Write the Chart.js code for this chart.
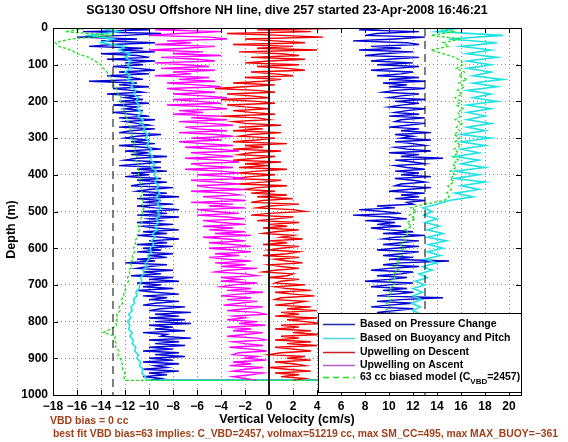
<!DOCTYPE html>
<html>
<head>
<meta charset="utf-8">
<script src="https://cdn.jsdelivr.net/npm/chart.js@4.4.1/dist/chart.umd.min.js"></script>
<style>
  html, body { margin: 0; padding: 0; background: #fff; }
</style>
</head>
<body>
<canvas id="chart" width="568" height="442"></canvas>
<script>
// depth levels (m): fine grid for the noisy profiles, coarse grid for the smooth ones
const depthsFine = [0,5,10,15,20,25,30,35,40,45,50,55,60,65,70,75,80,85,90,95,
  100,105,110,115,120,125,130,135,140,145,150,155,160,165,170,175,180,185,190,195,
  200,205,210,215,220,225,230,235,240,245,250,255,260,265,270,275,280,285,290,295,
  300,305,310,315,320,325,330,335,340,345,350,355,360,365,370,375,380,385,390,395,
  400,405,410,415,420,425,430,435,440,445,450,455,460,465,470,475,480,485,490,495,
  500,505,510,515,520,525,530,535,540,545,550,555,560,565,570,575,580,585,590,595,
  600,605,610,615,620,625,630,635,640,645,650,655,660,665,670,675,680,685,690,695,
  700,705,710,715,720,725,730,735,740,745,750,755,760,765,770,775,780,785,790,795,
  800,805,810,815,820,825,830,835,840,845,850,855,860,865,870,875,880,885,890,895,
  900,905,910,915,920,925,930,935,940,945,950,955,960];
const depthsCoarse = [0,10,20,30,40,50,60,70,80,90,100,110,120,130,140,150,160,170,180,190,200,210,220,230,240,250,260,270,280,290,300,310,320,330,340,350,360,370,380,390,400,410,420,430,440,450,460,470,480,490,500,510,520,530,540,550,560,570,580,590,600,610,620,630,640,650,660,670,680,690,700,710,720,730,740,750,760,770,780,790,800,810,820,830,840,850,860,870,880,890,900,910,920,930,940,950,960];

// pressure change, descent / ascent (cm/s), on depthsFine
const pressureDown = [-13,-10,-15.5,-9,-12,-16,-11,-14,-9.5,-13,-15,-10.5,-12.5,-9.5,-14,-11,-10,-13.5,-9.5,-12,
  -10.5,-13,-11,-9.5,-12.5,-10,-13.5,-11.5,-10.5,-15,-11,-12.5,-10,-13,-11.5,-10.5,-13.5,-11,-12,-10.5,
  -12.5,-10,-13,-11,-12,-10.5,-13,-11.5,-10,-12.5,-9.5,-12,-11,-10,-12.5,-9.5,-11.5,-12.5,-9,-11,
  -12,-10,-11.5,-9.5,-12.5,-10.5,-9,-12,-10,-11.5,-8.5,-11,-12,-9,-10.5,-12.5,-9,-11,-8.5,-11.5,
  -10,-12,-9,-11,-8.5,-10.5,-11.5,-8,-10,-11,-8.5,-10.5,-7.5,-11,-9,-10.5,-8,-11,-9.5,-7.5,
  -10.5,-8.5,-11,-7.5,-10,-9,-11,-8,-10.5,-9.5,-7.5,-10.5,-8.5,-11,-9,-7.5,-10,-8.5,-11,-8,
  -10.5,-9,-11,-8,-10,-8.5,-11,-9.5,-12,-8.5,-10,-11,-8,-10.5,-9,-11.5,-8,-10,-7.5,-11,
  -9,-10.5,-8,-11,-9.5,-7.5,-10.5,-8.5,-10,-7.5,-9.5,-10.5,-7,-9,-10,-6.5,-9.5,-7.5,-10,-7,
  -9.5,-6.5,-10,-8,-9.5,-7,-10.5,-8.5,-9,-6.5,-10,-7.5,-9.5,-7,-10,-8,-10.5,-7.5,-9.5,-7,
  -10,-8,-10.5,-7.5,-9.5,-8.5,-10.5,-7.5,-10,-8.5,-10.5,-9,-10];
const pressureUp = [10,7.5,12.5,9,8,13,10.5,7,11.5,12.5,8.5,11,7.5,12,9.5,8,12.5,10,8.5,12,
  9,12.5,10.5,8.5,12,11,9,12.5,10,13,9.5,11.5,10,13,10.5,9.5,12.5,11,10,13,
  10.5,12.5,11,10,13,11.5,10.5,12.5,10,13,11,10.5,13,11.5,10,12.5,11,13.5,10.5,12,
  11,13.5,10.5,12,13,10.5,11.5,13.5,10,12.5,11,14.5,10.5,12,13,10.5,11.5,13,10.5,12.5,
  11,13.5,10.5,12,13,11,10.5,13.5,11.5,10,13,11,12.5,10.5,13,11.5,12,9,10.5,7.5,
  9.5,11,7,10,11.5,8,10.5,9,11,8.5,10,12,9.5,13,10.5,9.5,12.5,11,9.5,12.5,
  10.5,9,12.5,11,9.5,12,10,15,11,9.5,12.5,10,8.5,12,11,9,11.5,10,8,12,
  10,8.5,11.5,9.5,12,10.5,9,14.5,11,9,12,10,8.5,12,10.5,9,12,11,9.5,12,
  10.5,9,12,10,9,12.5,11,9.5,12,10,9,12,10.5,9,12,11,9.5,12.5,10,9,
  12,10.5,9,12,11,9.5,12,10,9.5,12,10.5,11,10];

// buoyancy and pitch, descent / ascent, on depthsCoarse
const buoyDown = [-14,-12.5,-15,-13,-14,-12,-12.5,-11.5,-12,-11.5,-11.8,-11.5,-12,-11.5,-11.8,-11.3,-11.5,-11.1,-11.3,-10.9,-11.1,-10.8,-11,-10.6,-10.9,-10.5,-10.7,-10.3,-10.5,-10.1,-10.3,-10,-10.2,-9.8,-10,-9.7,-9.9,-9.5,-9.8,-9.4,-9.6,-9.3,-9.5,-9.2,-9.4,-9.1,-9.4,-9.1,-9.3,-9,-9.3,-9.1,-9.4,-9.2,-9.5,-9.3,-9.7,-9.5,-9.8,-9.6,-9.9,-9.8,-10.1,-10,-10.3,-10.2,-10.5,-10.4,-10.7,-10.6,-10.8,-10.8,-11.1,-11,-11.3,-11.2,-11.5,-11.4,-11.7,-11.5,-11.8,-11.6,-11.7,-11.4,-11.6,-11.3,-11.4,-11.1,-11.2,-10.9,-11,-10.7,-10.8,-10.5,-10.6,-10.3,-10.2];
const buoyUp = [16,14,19.5,15,19,16,18.5,16.5,19,16.5,18.5,16.5,18.5,17,19.5,17,19,16.5,18.5,17,19,16.5,18.5,16.5,18,16.5,18.5,16.5,18,16,18.5,16,18,16,17.5,15.5,17.5,16,18,15.5,17.5,15.5,18,16,17.5,15.5,17,15,14,12.8,13.6,12.9,14,13,14.2,13.2,14.5,13.2,14.8,13.3,14.5,13.2,14.3,13,14,12.8,13.6,12.5,13.2,12.2,13,12,12.8,12,12.7,11.9,12.6,12,12.7,12.2,12.8,12.3,12.7,12.2,12.6,12.1,12.5,12,12.4,11.9,12.3,11.8,12.2,11.7,12,11.6,11.5];

// upwelling on descent / on ascent, on depthsFine
const upwellDown = [7.5,-1,3.5,-3.5,1,4.5,-2,0.5,3,-3,2,-1,4,-2.5,1,2.5,-1.5,3,0,-2,
  2.5,-1,1.5,3,-1.5,0.5,2,-2,1,-0.5,-3,0.5,-2,-4.5,-1,0.5,-3.5,-1.5,0,-4,
  -1,0.5,-3.5,-2,0,-3,-1.5,0.5,-4,-1,0,-3,-2,1,-2.5,-0.5,-3,1,-1.5,-2.5,
  0.5,-1,-3,1.5,-2,-0.5,-3,1,-1.5,-2.5,0.5,-1,-3,1,-2,0,-2.5,1.5,-1,-2.5,
  0.5,-1.5,-3,1,-0.5,-2.5,1.5,-1,-2,0.5,-1.5,1.5,-1,2,-0.5,-1.5,2.5,0,-1,2,
  3,0,-1.5,2,0.5,-1,2.5,0,1.5,-0.5,2.5,0.5,-0.5,2,1,2.8,0,1.5,-0.5,2.5,
  1,0,2.5,1.5,-0.5,2.5,0.5,1.5,2.8,0,1,2.5,0.5,-0.5,2,1.5,0,2.5,1,0.5,
  3,0.5,1.5,3.5,0.5,2,3.8,1,0.5,3,2,0.5,3.5,1.5,4,1,2.5,0.5,4,1.5,
  3,4.3,1,2.5,0.5,3.5,2,4.3,1,2.5,0.5,3.5,1.5,4,0.5,2,3.5,1,0,3,
  1.5,3.5,0.5,2,3,0,1.5,3.5,0.5,2.5,1,3,2];
const upwellUp = [-6,-9.5,-4,-7.5,-10,-5,-3.5,-8.5,-6.5,-9.5,-4.5,-7,-10,-5.5,-8,-4,-9,-6,-4.5,-9.5,
  -7,-5,-9,-4.5,-8,-6.5,-9.5,-5,-7.5,-4.5,-8.5,-6,-4,-8.5,-7,-4.5,-8,-5.5,-3.5,-8,
  -6,-4,-8.5,-5,-3.5,-7.5,-5.5,-8,-4,-6.5,-3.5,-7.5,-5,-3,-7,-6,-3.5,-7.5,-4.5,-3,
  -6.5,-4,-7.5,-5.5,-3,-7,-4.5,-2.5,-6.5,-5,-3,-7,-4,-2.5,-6.5,-5.5,-3,-7,-4,-2.5,
  -6,-3.5,-2,-6.5,-4.5,-2.5,-6,-5,-2,-6.5,-3.5,-2.5,-5.5,-4,-2,-6.5,-3,-5,-2,-6,
  -4.5,-2.5,-6,-3.5,-2,-5.5,-4,-2,-5.5,-3,-5,-2,-4.5,-1.5,-5.5,-3.5,-2,-5,-3,-1.5,
  -5,-3,-1.5,-4.5,-2.5,-5,-3.5,-1.5,-4.5,-2,-4,-1,-3.5,-4.5,-2,-1,-4,-2.5,-4,-1,
  -3,-4,-1.5,-3.5,-0.5,-2.5,-4,-1.5,-3.5,-1,-2.5,-3.8,-0.5,-2,-3.5,-1,-0.3,-3,-2,-3.5,
  -1,-2.5,-0.3,-3.5,-1.5,-3,-0.5,-2,-3.5,-1,-0.3,-3,-2,-0.5,-3.3,-1.5,-0.2,-2.5,-3,-1,
  -2,-0.2,-3,-1.5,-3.3,-0.5,-2,-3,-0.5,-1.5,-3,-2,-1];

// 63 cc biased model, descent / ascent, on depthsCoarse
const modelDown = [-15,-17,-13,-16.5,-17.8,-17.5,-16.5,-16,-15,-14.5,-14,-13.8,-13.5,-13.3,-13.1,-13,-12.9,-12.6,-12.6,-12.3,-12.4,-12.1,-12.2,-11.9,-12,-11.7,-11.8,-11.5,-11.6,-11.4,-11.5,-11.2,-11.3,-11.1,-11.2,-11,-11.1,-10.9,-11,-10.8,-10.9,-10.7,-10.8,-10.6,-10.7,-10.5,-10.7,-10.5,-10.6,-10.4,-10.6,-10.5,-10.7,-10.6,-10.9,-10.8,-11,-10.9,-11.2,-11.1,-11.3,-11.2,-11.4,-11.3,-11.6,-11.4,-11.7,-11.6,-11.8,-11.7,-12,-11.9,-12.1,-12.1,-12.3,-12.2,-12.5,-12.4,-12.7,-12.6,-12.8,-12.7,-13.2,-13.8,-12.8,-12.9,-12.7,-12.8,-12.5,-12.6,-12.4,-12.3,-12.2,-12.2,-12,-12.1,-12];
const modelUp = [14,15.5,13.5,16,14.5,15,13.5,14.5,15.5,16,16.2,15.6,16.3,15.8,16.5,15.8,16.3,15.7,16.1,15.5,16,15.6,16.2,15.7,16,15.5,16.1,15.6,15.9,15.4,15.9,15.5,16,15.4,15.8,15.3,15.8,15.3,15.6,15.1,15.5,15.1,15.4,14.9,15.2,14.8,15,14.6,13,11.8,12.3,11.7,12.2,11.5,11.9,11.3,11.7,11.1,11.4,10.9,11.3,10.8,11.1,10.6,10.9,10.4,10.8,10.3,10.6,10.1,10.5,10,10.3,9.9,10.2,9.8,10.1,9.7,10,9.8,10.1,9.7,10,9.8,10.1,9.7,10,9.8,10.1,9.7,10,9.8,10.1,9.7,10,9.8,10];

// vertical reference lines
const vbdLimit = 13;
const xTicks = [-18,-16,-14,-12,-10,-8,-6,-4,-2,0,2,4,6,8,10,12,14,16,18,20];
const yTicks = [0,100,200,300,400,500,600,700,800,900,1000];

const BLUE = "#0000d2";
const CYAN = "#22e2e2";
const RED = "#f00000";
const MAGENTA = "#ff00ff";
const GREEN = "#22dd22";
const FONT = "'Liberation Sans', Arial, sans-serif";

function descent(vals, depths) {
  return vals.map((v, i) => ({ x: v, y: depths[i] }));
}
function ascent(vals, depths) {
  return vals.map((v, i) => ({ x: v, y: depths[i] })).reverse();
}
function line(label, data, color, order, width, dash) {
  return {
    label, data, order,
    showLine: true,
    borderColor: color,
    borderWidth: width,
    borderDash: dash || [],
    pointRadius: 0,
    fill: false,
  };
}

const datasets = [
  line("Based on Pressure Change", descent(pressureDown, depthsFine).concat(ascent(pressureUp, depthsFine)), BLUE, 6, 1.4),
  line("Based on Buoyancy and Pitch", descent(buoyDown, depthsCoarse).concat(ascent(buoyUp, depthsCoarse)), CYAN, 5, 1.6),
  line("Upwelling on Descent", descent(upwellDown, depthsFine), RED, 4, 1.4),
  line("Upwelling on Ascent", ascent(upwellUp, depthsFine), MAGENTA, 3, 1.4),
  line("63 cc biased model", descent(modelDown, depthsCoarse).concat(ascent(modelUp, depthsCoarse)), GREEN, 2, 1.3, [3, 2]),
  line("zero", [{ x: 0, y: 0 }, { x: 0, y: 1000 }], "#000", 1, 1),
  line("vbd-", [{ x: -vbdLimit, y: 0 }, { x: -vbdLimit, y: 1000 }], "#000", 1, 1, [8, 5]),
  line("vbd+", [{ x: vbdLimit, y: 0 }, { x: vbdLimit, y: 1000 }], "#000", 1, 1, [8, 5]),
];

const legendItems = [
  { text: "Based on Pressure Change", color: "#1a2aa8" },
  { text: "Based on Buoyancy and Pitch", color: "#4cd6d6" },
  { text: "Upwelling on Descent", color: "#c82020" },
  { text: "Upwelling on Ascent", color: "#b060c8" },
  { text: "63 cc biased model (C", sub: "VBD", tail: "=2457)", color: GREEN, dash: [6, 4] },
];

const decorations = {
  id: "decorations",
  beforeDraw(chart) {
    const ctx = chart.ctx;
    ctx.save();
    ctx.fillStyle = "#fff";
    ctx.fillRect(0, 0, chart.width, chart.height);
    ctx.restore();
  },
  afterDatasetsDraw(chart) {
    const { ctx, chartArea: a, scales } = chart;
    ctx.save();
    ctx.strokeStyle = "#000";
    ctx.lineWidth = 1;
    ctx.beginPath();
    xTicks.forEach((v) => {
      const px = Math.round(scales.x.getPixelForValue(v)) + 0.5;
      ctx.moveTo(px, a.bottom); ctx.lineTo(px, a.bottom - 5);
      ctx.moveTo(px, a.top); ctx.lineTo(px, a.top + 5);
    });
    yTicks.forEach((v) => {
      const py = Math.round(scales.y.getPixelForValue(v)) + 0.5;
      ctx.moveTo(a.left, py); ctx.lineTo(a.left + 5, py);
      ctx.moveTo(a.right, py); ctx.lineTo(a.right - 5, py);
    });
    ctx.stroke();
    ctx.strokeRect(Math.round(a.left) + 0.5, Math.round(a.top) + 0.5,
      Math.round(a.right - a.left), Math.round(a.bottom - a.top));
    ctx.restore();
  },
  afterDraw(chart) {
    const { ctx, chartArea: a } = chart;
    ctx.save();
    // legend
    const lx = 318, ly = 313, lw = a.right - 318, lh = 79;
    ctx.fillStyle = "#fff";
    ctx.fillRect(lx, ly, lw, lh);
    ctx.strokeStyle = "#000";
    ctx.lineWidth = 1;
    ctx.strokeRect(lx + 0.5, ly + 0.5, lw, lh);
    ctx.textBaseline = "middle";
    const rows = [324, 338, 352, 365, 377];
    legendItems.forEach((it, i) => {
      const y = rows[i];
      ctx.strokeStyle = it.color;
      ctx.lineWidth = 1.5;
      ctx.setLineDash(it.dash || []);
      ctx.beginPath();
      ctx.moveTo(323, y + 0.5);
      ctx.lineTo(355, y + 0.5);
      ctx.stroke();
      ctx.setLineDash([]);
      ctx.fillStyle = "#000";
      ctx.textAlign = "left";
      ctx.font = "bold 10.5px " + FONT;
      ctx.fillText(it.text, 360, y);
      if (it.sub) {
        let x = 360 + ctx.measureText(it.text).width;
        ctx.font = "bold 8px " + FONT;
        ctx.fillText(it.sub, x, y + 5);
        x += ctx.measureText(it.sub).width;
        ctx.font = "bold 10.5px " + FONT;
        ctx.fillText(it.tail, x, y);
      }
    });
    // title
    ctx.fillStyle = "#000";
    ctx.textAlign = "center";
    ctx.font = "bold 12.5px " + FONT;
    ctx.fillText("SG130 OSU Offshore NH line, dive 257 started 23-Apr-2008 16:46:21", (a.left + a.right) / 2, 11);
    // axis labels
    ctx.font = "bold 12.5px " + FONT;
    ctx.fillText("Vertical Velocity (cm/s)", (a.left + a.right) / 2, 420);
    ctx.save();
    ctx.translate(12, (a.top + a.bottom) / 2 + 18);
    ctx.rotate(-Math.PI / 2);
    ctx.fillText("Depth (m)", 0, 0);
    ctx.restore();
    // notes
    ctx.fillStyle = "#a0401a";
    ctx.textAlign = "left";
    ctx.font = "bold 10.5px " + FONT;
    ctx.fillText("VBD bias = 0 cc", 50, 421);
    ctx.fillText("best fit VBD bias=63 implies: C_VBD=2457, volmax=51219 cc, max SM_CC=495, max MAX_BUOY=\u2212361", 53, 434, 505);
    ctx.restore();
  },
};

new Chart(document.getElementById("chart"), {
  type: "scatter",
  data: { datasets },
  options: {
    responsive: false,
    devicePixelRatio: 1,
    animation: false,
    layout: { padding: { left: 0, top: 28, right: 47, bottom: 0 } },
    plugins: { legend: { display: false }, tooltip: { enabled: false } },
    scales: {
      x: {
        type: "linear",
        min: -18,
        max: 21,
        afterBuildTicks: (s) => { s.ticks = xTicks.map((v) => ({ value: v })); },
        afterFit: (s) => { s.height = 47; },
        grid: { color: "#8a8a8a", drawTicks: false, lineWidth: 1 },
        border: { display: false, dash: [1, 3] },
        ticks: {
          color: "#000",
          padding: 4,
          maxRotation: 0,
          autoSkip: false,
          font: { family: FONT, size: 12, weight: "bold" },
          callback: (v) => String(v).replace("-", "\u2212"),
        },
      },
      y: {
        type: "linear",
        reverse: true,
        min: 0,
        max: 1000,
        afterBuildTicks: (s) => { s.ticks = yTicks.map((v) => ({ value: v })); },
        afterFit: (s) => { s.width = 53; },
        grid: { color: "#8a8a8a", drawTicks: false, lineWidth: 1 },
        border: { display: false, dash: [1, 3] },
        ticks: {
          color: "#000",
          padding: 5,
          autoSkip: false,
          font: { family: FONT, size: 12, weight: "bold" },
          callback: (v) => String(v),
        },
      },
    },
  },
  plugins: [decorations],
});
</script>
</body>
</html>
